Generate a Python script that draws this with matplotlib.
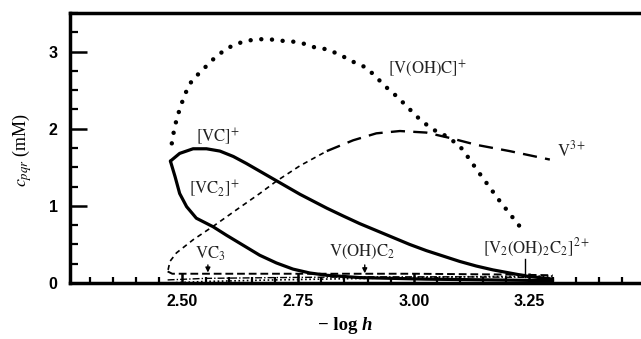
import matplotlib
matplotlib.use("Agg")
import matplotlib.pyplot as plt
from matplotlib.ticker import MultipleLocator, FixedLocator, FormatStrFormatter

plt.rcParams['mathtext.fontset'] = 'stix'

# ---- data ----
voh_c_x = [2.477, 2.481, 2.488, 2.499, 2.510, 2.522, 2.542, 2.559, 2.576, 2.596, 2.617,
           2.639, 2.663, 2.687, 2.715, 2.738, 2.764, 2.788, 2.812, 2.840, 2.868, 2.898,
           2.920, 2.942, 2.963, 2.985, 3.006, 3.028, 3.050, 3.072, 3.100, 3.121, 3.136,
           3.186, 3.240]
voh_c_y = [1.81, 1.95, 2.14, 2.34, 2.51, 2.64, 2.75, 2.86, 2.95, 3.04, 3.10,
           3.14, 3.16, 3.16, 3.14, 3.13, 3.10, 3.05, 3.03, 2.96, 2.87, 2.79,
           2.66, 2.53, 2.42, 2.29, 2.16, 2.05, 1.96, 1.90, 1.77, 1.60, 1.47,
           1.06, 0.65]

v3_x = [2.469, 2.473, 2.487, 2.523, 2.570, 2.617, 2.667, 2.703, 2.754, 2.812,
        2.869, 2.919, 2.970, 3.027, 3.078, 3.136, 3.207, 3.294]
v3_y = [0.17, 0.28, 0.39, 0.56, 0.75, 0.95, 1.16, 1.32, 1.52, 1.71,
        1.85, 1.94, 1.97, 1.95, 1.88, 1.79, 1.71, 1.60]

vc_x = [2.474, 2.494, 2.523, 2.552, 2.581, 2.610, 2.638, 2.667, 2.696, 2.725, 2.754,
        2.783, 2.812, 2.847, 2.883, 2.919, 2.955, 2.991, 3.027, 3.063, 3.099, 3.135,
        3.171, 3.207, 3.243, 3.300]
vc_y = [1.58, 1.68, 1.74, 1.74, 1.71, 1.64, 1.55, 1.45, 1.35, 1.25, 1.15,
        1.06, 0.97, 0.87, 0.77, 0.68, 0.59, 0.50, 0.42, 0.35, 0.28, 0.22,
        0.17, 0.13, 0.09, 0.05]

vc2_x = [2.474, 2.484, 2.494, 2.509, 2.530, 2.566, 2.595, 2.631, 2.667, 2.703, 2.739,
         2.775, 2.812, 2.883, 3.027, 3.300]
vc2_y = [1.58, 1.38, 1.16, 0.99, 0.84, 0.73, 0.62, 0.49, 0.36, 0.26, 0.18,
         0.13, 0.10, 0.07, 0.05, 0.03]

vc3_x = [2.468, 2.478, 2.500, 2.600, 2.800, 3.000, 3.200, 3.300]
vc3_y = [0.15, 0.12, 0.12, 0.12, 0.12, 0.12, 0.11, 0.10]

vohc2_x = [2.468, 2.550, 2.700, 2.900, 3.100, 3.300]
vohc2_y = [0.04, 0.06, 0.07, 0.08, 0.08, 0.07]

v2_x = [2.468, 2.550, 2.700, 2.900, 3.100, 3.300]
v2_y = [0.00, 0.02, 0.04, 0.06, 0.08, 0.09]

x_major = [2.50, 2.75, 3.00, 3.25]
y_major = [0, 1, 2, 3]

# ---- figure ----
W, H = 641, 339
fig = plt.figure(figsize=(W / 100, H / 100), dpi=100)
ax = fig.add_axes([70 / W, (H - 283) / H, (W - 70) / W, (283 - 13) / H])

ax.plot(voh_c_x, voh_c_y, color='black', lw=3.2, linestyle=(0, (0.01, 2.4)),
        dash_capstyle='round', solid_capstyle='round')
# V3+ : thin short dashes on the rising branch, heavier long dashes near the top
split = 9
ax.plot(v3_x[:split + 1], v3_y[:split + 1], color='black', lw=1.2, linestyle=(0, (3, 2.5)))
ax.plot(v3_x[split:], v3_y[split:], color='black', lw=1.7, linestyle=(0, (6, 3.5)))
ax.plot(vc_x, vc_y, color='black', lw=2.3, solid_capstyle='round', solid_joinstyle='round')
ax.plot(vc2_x, vc2_y, color='black', lw=2.3, solid_capstyle='round', solid_joinstyle='round')
ax.plot(vc3_x, vc3_y, color='black', lw=1.4, linestyle=(0, (4, 2)))
ax.plot(vohc2_x, vohc2_y, color='black', lw=1.0, linestyle=(0, (5, 1.5, 1, 1.5)))
ax.plot(v2_x, v2_y, color='black', lw=1.2, linestyle=(0, (1, 1.5)))

ax.set_xlim(2.257, 3.491)
ax.set_ylim(0, 3.5)

ax.xaxis.set_major_locator(FixedLocator(x_major))
ax.xaxis.set_minor_locator(MultipleLocator(0.05))
ax.xaxis.set_major_formatter(FormatStrFormatter('%.2f'))
ax.yaxis.set_major_locator(FixedLocator(y_major))
ax.yaxis.set_minor_locator(MultipleLocator(0.25))

tick_font = ['Liberation Sans Narrow', 'Liberation Sans', 'DejaVu Sans']
ax.tick_params(axis='y', which='major', direction='in', length=12, width=1.8, pad=9)
ax.tick_params(axis='y', which='minor', direction='in', length=6, width=1.6)
ax.tick_params(axis='x', which='major', direction='in', length=7, width=1.8, pad=8)
ax.tick_params(axis='x', which='minor', direction='in', length=4.5, width=1.6)
for lab in ax.get_xticklabels() + ax.get_yticklabels():
    lab.set_fontfamily(tick_font)
    lab.set_fontweight('bold')
    lab.set_fontsize(11.5)

for s in ['left', 'bottom', 'top']:
    ax.spines[s].set_linewidth(2.5)
ax.spines['right'].set_visible(False)

# ---- labels ----
tk = dict(fontsize=12, ha='center', va='center', color='#222222')
ax.text(2.576, 1.90, r'$[\mathrm{VC}]^{+}$', **tk)
ax.text(2.570, 1.22, r'$[\mathrm{VC}_{2}]^{+}$', **tk)
ax.text(3.030, 2.78, r'$[\mathrm{V(OH)C}]^{+}$', **tk)
ax.text(3.340, 1.72, r'$\mathrm{V}^{3+}$', **tk)
ax.text(2.560, 0.38, r'$\mathrm{VC}_{3}$', **tk)
ax.text(2.888, 0.40, r'$\mathrm{V(OH)C}_{2}$', **tk)
ax.text(3.265, 0.46, r'$[\mathrm{V}_{2}\mathrm{(OH)}_{2}\mathrm{C}_{2}]^{2+}$', **tk)

arrow = dict(arrowstyle='-|>', color='black', lw=1.0, mutation_scale=7)
ax.annotate('', xy=(2.555, 0.10), xytext=(2.555, 0.27), arrowprops=arrow)
ax.annotate('', xy=(2.894, 0.09), xytext=(2.894, 0.27), arrowprops=arrow)
ax.plot([3.240, 3.240], [0.08, 0.31], color='black', lw=1.0)

fig.text(22 / W, 1 - 150 / H, r'$c_{pqr}$ (mM)', rotation=90, ha='center', va='center',
         fontsize=13, family=['Liberation Serif', 'DejaVu Serif'])
fig.text(362 / W, 1 - 326 / H, '− log ', ha='right', va='center', fontsize=13.5,
         fontweight='bold', family=['Liberation Serif', 'DejaVu Serif'])
fig.text(362 / W, 1 - 326 / H, 'h', ha='left', va='center', fontsize=13.5,
         fontweight='bold', fontstyle='italic', family=['Liberation Serif', 'DejaVu Serif'])

fig.savefig('out.png', dpi=100)
